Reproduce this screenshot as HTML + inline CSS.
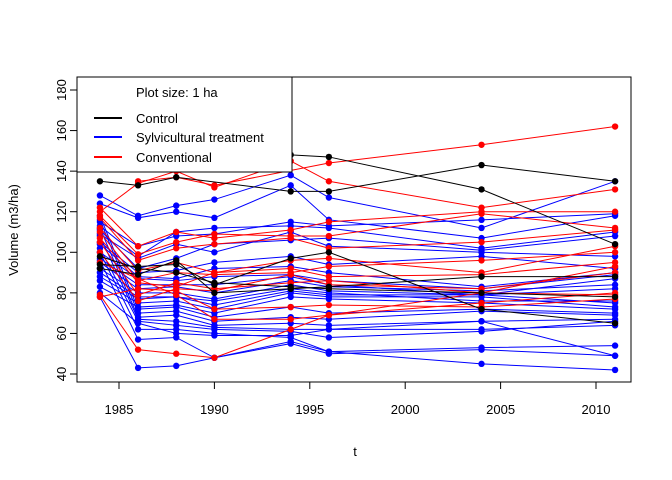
<!DOCTYPE html>
<html><head><meta charset="utf-8"><style>
body{margin:0;background:#fff}
svg{display:block;font-family:"Liberation Sans",Arial,sans-serif}
</style></head><body>
<svg id="chart" width="672" height="480">
<g id="series"></g>
<rect x="77" y="77" width="554" height="305" fill="none" stroke="#000"/>
<g id="axes"></g>
<text x="355" y="456" font-size="13" text-anchor="middle">t</text>
<text transform="translate(18,230) rotate(-90)" font-size="13" text-anchor="middle">Volume (m3/ha)</text>
<g>
<rect x="77" y="77" width="215" height="95" fill="#fff" stroke="#000"/>
<text x="136" y="97" font-size="13">Plot size: 1 ha</text>
<line x1="94" y1="118" x2="122" y2="118" stroke="#000" stroke-width="2"/>
<text x="136" y="123" font-size="13">Control</text>
<line x1="94" y1="137" x2="122" y2="137" stroke="#0000ff" stroke-width="2"/>
<text x="136" y="142" font-size="13">Sylvicultural treatment</text>
<line x1="94" y1="157" x2="122" y2="157" stroke="#ff0000" stroke-width="2"/>
<text x="136" y="162" font-size="13">Conventional</text>
</g>
</svg>
<script>
const years=[1984,1986,1988,1990,1994,1996,2004,2011];
const xTicks=[1985,1990,1995,2000,2005,2010];
const yTicks=[40,60,80,100,120,140,160,180];
const controlSeries=[
[135,133,137,null,130,130,143,135],
[null,null,null,null,148,147,131,104],
[94,93,94,84,97,100,72,65],
[92,89,96,80,82,83,88,88],
[98,92,90,85,83,82,80,78]];
const sylvSeries=[
[128,118,123,126,138,127,112,135],
[124,117,120,117,133,116,107,118],
[115,103,108,109,115,113,116,119],
[113,98,110,112,113,112,102,110],
[111,92,97,104,106,107,101,108],
[109,97,104,100,110,103,100,98],
[105,90,91,95,98,94,98,92],
[104,88,87,92,93,90,83,90],
[100,87,86,88,89,86,82,89],
[97,84,84,84,88,84,79,87],
[95,82,83,80,86,83,81,84],
[92,80,80,77,84,81,79,82],
[90,78,78,76,82,80,76,76],
[88,77,78,74,81,79,79,75],
[86,75,76,72,80,78,78,73],
[83,73,74,70,78,77,75,72],
[118,72,73,68,73,70,72,70],
[116,70,71,66,68,67,71,69],
[112,68,69,64,65,64,66,67],
[108,67,66,63,62,62,62,64],
[102,66,64,62,61,58,61,66],
[100,62,62,60,58,51,53,54],
[96,57,58,48,56,51,45,42],
[80,65,60,59,59,62,66,49],
[78,43,44,48,55,50,52,49]];
const convSeries=[
[null,135,137,133,null,144,153,162],
[120,134,140,132,145,135,122,131],
[122,103,110,107,111,115,120,120],
[118,99,105,109,108,108,119,112],
[117,96,102,104,107,102,105,111],
[112,91,95,90,96,97,90,103],
[110,86,90,89,90,93,96,100],
[107,85,83,90,92,88,89,95],
[105,79,85,82,85,86,80,93],
[100,76,82,81,89,84,82,90],
[95,87,79,67,67,69,80,79],
[79,52,50,48,62,69,75,80],
[78,82,81,72,73,74,73,77]];
const NS="http://www.w3.org/2000/svg";
function xs(t){return 119+(t-1985)*(596-119)/25;}
function ys(v){return 374-(v-40)*(374-90)/140;}
const g=document.getElementById('series');
const ax=document.getElementById('axes');
function mk(tag,attrs,parent){const e=document.createElementNS(NS,tag);for(const k in attrs)e.setAttribute(k,attrs[k]);parent.appendChild(e);return e;}
function draw(list,color,name){
 list.forEach((s,i)=>{
  const pts=[];
  s.forEach((v,j)=>{if(v!==null)pts.push([xs(years[j]),ys(v)]);});
  const pl=mk('polyline',{points:pts.map(p=>p.join(',')).join(' '),fill:'none',stroke:color,'stroke-width':1},g);
  
  
  pts.forEach((p,k)=>{
   const c=mk('circle',{cx:p[0],cy:p[1],r:3.2,fill:color},g);
   
   
  });
 });
}
draw(sylvSeries,'#0000ff','sylvicultural');
draw(convSeries,'#ff0000','conventional');
draw(controlSeries,'#000000','control');
xTicks.forEach(t=>{
 const x=xs(t);
 const l=mk('line',{x1:x,y1:382,x2:x,y2:389,stroke:'#000'},ax);
 
 
 const tx=mk('text',{x:x,y:414,'font-size':13,'text-anchor':'middle'},ax);
 tx.textContent=t;
 
 
});
yTicks.forEach(v=>{
 const y=ys(v);
 const l=mk('line',{x1:70,y1:y,x2:77,y2:y,stroke:'#000'},ax);
 
 
 const tx=mk('text',{'font-size':13,'text-anchor':'middle',transform:'translate(66,'+y+') rotate(-90)'},ax);
 tx.textContent=v;
 
 
});
</script>
</body></html>
